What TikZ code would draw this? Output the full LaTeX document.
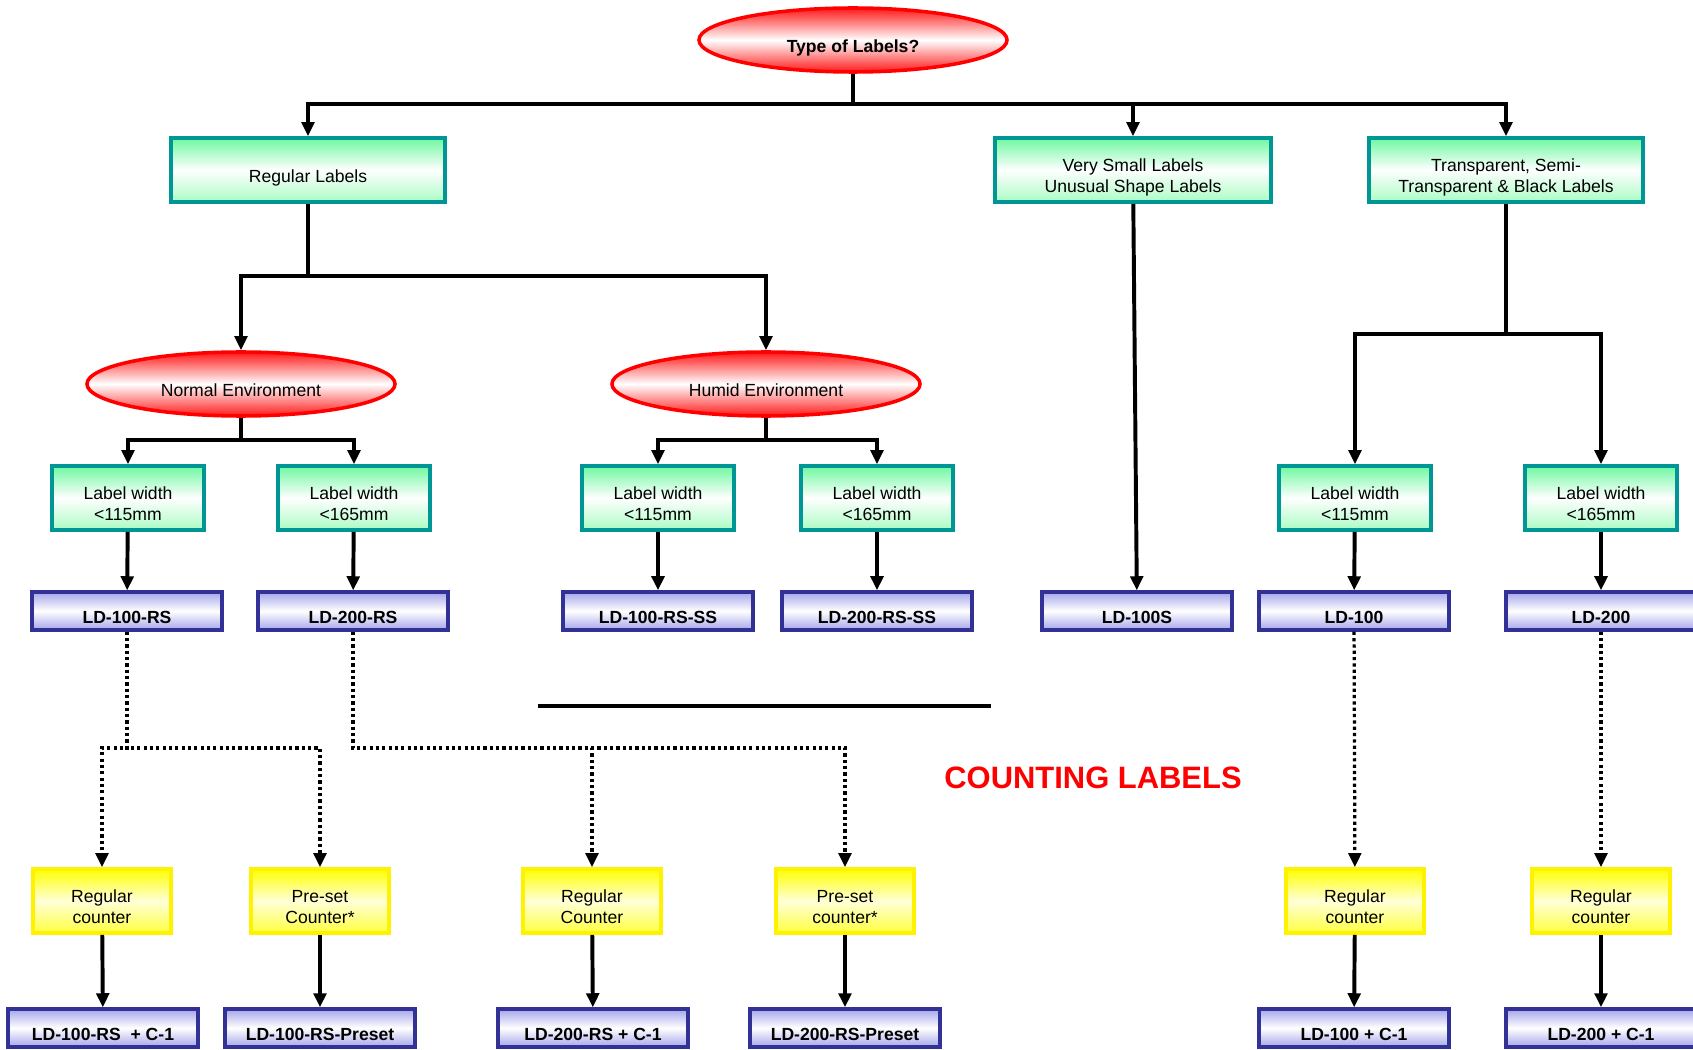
\documentclass[tikz,border=0pt]{standalone}
\usepackage{fontspec}
\setmainfont{Liberation Sans}
\usetikzlibrary{arrows.meta,shapes.geometric,calc}
\definecolor{boxteal}{RGB}{0,150,150}
\definecolor{boxgreen}{RGB}{110,248,160}
\definecolor{boxgreenlow}{RGB}{170,252,195}
\definecolor{boxblue}{RGB}{50,50,150}
\definecolor{boxlav}{RGB}{165,165,235}
\newcommand{\topstrut}{\rule{0pt}{20.4pt}}
\newcommand{\twostrut}{\rule{0pt}{35pt}}
\newcommand{\botstrut}{\rule[-3pt]{0pt}{3pt}}
\tikzstyle{boxtext} = [inner sep=0pt, font=\fontsize{12.5}{14.6}\selectfont, execute at begin node=\topstrut, execute at end node=\botstrut]
\tikzstyle{twoline} = [execute at begin node=\twostrut]
\tikzstyle{question} = [boxtext, ellipse, draw=red, line width=2.5pt, top color=red!90, bottom color=red!90, middle color=white, minimum width=7.7cm, minimum height=1.6cm]
\tikzstyle{cat} = [boxtext, rectangle, draw=boxteal, line width=2.6pt, top color=boxgreen, bottom color=boxgreenlow, middle color=white, align=center]
\tikzstyle{model} = [boxtext, rectangle, draw=boxblue, line width=2.4pt, top color=boxlav, bottom color=boxlav, middle color=white, minimum width=4.75cm, minimum height=0.95cm, font=\bfseries\fontsize{12.5}{14.6}\selectfont]
\tikzstyle{counter} = [boxtext, twoline, rectangle, draw=yellow, line width=2.6pt, top color=yellow, bottom color=yellow!75, middle color=yellow!15, align=center, minimum width=3.45cm, minimum height=1.6cm]
\tikzstyle{arrow} = [line width=2.8pt,-{Triangle[length=10pt,width=9pt]}]
\tikzstyle{dots} = [line width=2.3pt,dash pattern=on 2.3pt off 2.2pt,-{Triangle[length=10pt,width=9pt]}]

\begin{document}
\begin{tikzpicture}[x=0.025cm,y=-0.025cm]
\useasboundingbox (0,0) rectangle (1693,1050);
\node (type) at (853,40) [question] {\bfseries Type of Labels?};
\node (reg) at (308,170) [cat, minimum width=6.85cm, minimum height=1.6cm] {Regular Labels};
\node (small) at (1133,170) [cat, twoline, minimum width=6.9cm, minimum height=1.6cm] {Very Small Labels\\Unusual Shape Labels};
\node (trans) at (1506,170) [cat, twoline, minimum width=6.85cm, minimum height=1.6cm] {Transparent, Semi-\\Transparent \& Black Labels};
\node (normal) at (241,384) [question] {Normal Environment};
\node (humid) at (766,384) [question] {Humid Environment};
% label width boxes
\node (nw1) at (128,498) [cat, twoline, minimum width=3.8cm, minimum height=1.6cm] {Label width\\<115mm};
\node (nw2) at (354,498) [cat, twoline, minimum width=3.8cm, minimum height=1.6cm] {Label width\\<165mm};
\node (hw1) at (658,498) [cat, twoline, minimum width=3.8cm, minimum height=1.6cm] {Label width\\<115mm};
\node (hw2) at (877,498) [cat, twoline, minimum width=3.8cm, minimum height=1.6cm] {Label width\\<165mm};
\node (tw1) at (1355,498) [cat, twoline, minimum width=3.8cm, minimum height=1.6cm] {Label width\\<115mm};
\node (tw2) at (1601,498) [cat, twoline, minimum width=3.8cm, minimum height=1.6cm] {Label width\\<165mm};
% models
\node (ld1) at (127,611) [model] {LD-100-RS};
\node (ld2) at (353,611) [model] {LD-200-RS};
\node (ld3) at (658,611) [model] {LD-100-RS-SS};
\node (ld4) at (877,611) [model] {LD-200-RS-SS};
\node (ld5) at (1137,611) [model] {LD-100S};
\node (ld6) at (1354,611) [model] {LD-100};
\node (ld7) at (1601,611) [model] {LD-200};
% counters
\node (c1) at (102,901) [counter] {Regular\\counter};
\node (c2) at (320,901) [counter] {Pre-set\\Counter*};
\node (c3) at (592,901) [counter] {Regular\\Counter};
\node (c4) at (845,901) [counter] {Pre-set\\counter*};
\node (c5) at (1355,901) [counter] {Regular\\counter};
\node (c6) at (1601,901) [counter] {Regular\\counter};
\node (p1) at (103,1028) [model] {LD-100-RS\ \ + C-1};
\node (p2) at (320,1028) [model] {LD-100-RS-Preset};
\node (p3) at (593,1028) [model] {LD-200-RS + C-1};
\node (p4) at (845,1028) [model] {LD-200-RS-Preset};
\node (p5) at (1354,1028) [model] {LD-100 + C-1};
\node (p6) at (1601,1028) [model] {LD-200 + C-1};
\node (count) at (1093,778) [text=red, font=\bfseries\fontsize{22}{26}\selectfont] {COUNTING LABELS};
% branch points
\coordinate (t1) at (853,104);
\coordinate (r1) at (308,276);
\coordinate (n1) at (241,440);
\coordinate (h1) at (766,440);
\coordinate (s1) at (1506,334);
\coordinate (d1) at (127,748);
\coordinate (d2) at (353,748);
\draw[arrow] (type.south) -- (t1) -| (reg.north);
\draw[arrow] (type.south) -- (t1) -| (small.north);
\draw[arrow] (type.south) -- (t1) -| (trans.north);
\draw[arrow] (reg.south) -- (r1) -| (normal.north);
\draw[arrow] (reg.south) -- (r1) -| (humid.north);
\draw[arrow] (normal.south) -- (n1) -| (nw1.north);
\draw[arrow] (normal.south) -- (n1) -| (nw2.north);
\draw[arrow] (humid.south) -- (h1) -| (hw1.north);
\draw[arrow] (humid.south) -- (h1) -| (hw2.north);
\draw[arrow] (trans.south) -- (s1) -| (tw1.north);
\draw[arrow] (trans.south) -- (s1) -| (tw2.north);
\draw[arrow] (nw1) -- (ld1);
\draw[arrow] (nw2) -- (ld2);
\draw[arrow] (hw1) -- (ld3);
\draw[arrow] (hw2) -- (ld4);
\draw[arrow] (small) -- (ld5);
\draw[arrow] (tw1) -- (ld6);
\draw[arrow] (tw2) -- (ld7);
\draw[dots] (ld1.south) -- (d1) -| (c1.north);
\draw[dots] (ld1.south) -- (d1) -| (c2.north);
\draw[dots] (ld2.south) -- (d2) -| (c3.north);
\draw[dots] (ld2.south) -- (d2) -| (c4.north);
\draw[dots] (ld6) -- (c5);
\draw[dots] (ld7) -- (c6);
\draw[arrow] (c1) -- (p1);
\draw[arrow] (c2) -- (p2);
\draw[arrow] (c3) -- (p3);
\draw[arrow] (c4) -- (p4);
\draw[arrow] (c5) -- (p5);
\draw[arrow] (c6) -- (p6);
\draw[line width=2.4pt] (538,706) -- (991,706);
\end{tikzpicture}
\end{document}
